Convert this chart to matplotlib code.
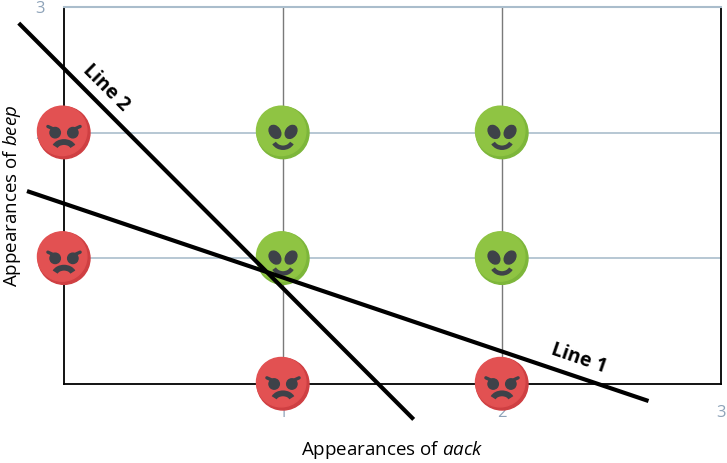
import matplotlib
matplotlib.use("Agg")
import matplotlib.pyplot as plt
from matplotlib.patches import Circle, Ellipse, Arc, Polygon
from matplotlib.transforms import Affine2D, ScaledTranslation

plt.rcParams['font.family'] = ['Open Sans', 'DejaVu Sans']
plt.rcParams['mathtext.fontset'] = 'custom'
plt.rcParams['mathtext.rm'] = 'Open Sans'
plt.rcParams['mathtext.it'] = 'Open Sans:italic'

# points: (aack, beep)
alien_x = [1, 1, 2, 2]
alien_y = [1, 2, 1, 2]
angry_x = [0, 0, 1, 2]
angry_y = [1, 2, 0, 0]

# the two separating lines, as end points
line1_x = [-0.16, 2.66]
line1_y = [1.53, -0.13]
line2_x = [-0.20, 1.59]
line2_y = [2.86, -0.27]

ticks = [0, 1, 2, 3]
tick_labels = ['', '1', '2', '3']

DARK = '#3e4249'
R = 26  # face radius in pixels


def face_transform(ax, x, y):
    return Affine2D().scale(R) + ScaledTranslation(x, y, ax.transData)


def face_base(ax, tr, dark, light):
    base = Circle((0, 0), 1, color=dark, transform=tr, clip_on=False, zorder=5)
    ax.add_patch(base)
    top = Circle((-0.07, 0.07), 0.95, color=light, transform=tr, clip_on=False, zorder=5)
    ax.add_patch(top)
    top.set_clip_path(base)


def draw_angry(ax, x, y):
    tr = face_transform(ax, x, y)
    face_base(ax, tr, '#cf3f42', '#e25152')
    for s in (-1, 1):
        cx, cy = s * 0.34, 0.0
        eye = Circle((cx, cy), 0.2, color=DARK, transform=tr, clip_on=False, zorder=6)
        ax.add_patch(eye)
        # slanted brow cuts the top of the eye
        cut = Polygon([(cx - 0.4, cy + 0.08 + s * 0.18), (cx + 0.4, cy + 0.08 - s * 0.18),
                       (cx + 0.4, cy - 0.5), (cx - 0.4, cy - 0.5)],
                      closed=True, transform=tr)
        eye.set_clip_path(cut)
        ax.plot([cx + s * 0.28, cx - s * 0.1], [cy + 0.08 + 0.128 + 0.03, cy + 0.08 - 0.045 + 0.03],
                color=DARK, lw=2.4, solid_capstyle='round', transform=tr,
                clip_on=False, zorder=6)
    ax.add_patch(Arc((0, -0.64), 0.74, 0.56, theta1=18, theta2=162, color=DARK, lw=4.2,
                     transform=tr, clip_on=False, zorder=6))


def draw_alien(ax, x, y):
    tr = face_transform(ax, x, y)
    face_base(ax, tr, '#7db63a', '#8fc443')
    for s in (-1, 1):
        ax.add_patch(Ellipse((s * 0.31, 0.03), 0.4, 0.54, angle=-s * 35, color=DARK,
                             transform=tr, clip_on=False, zorder=6))
    ax.add_patch(Arc((0, -0.2), 0.8, 0.76, theta1=210, theta2=330, color=DARK, lw=3.2,
                     transform=tr, clip_on=False, zorder=6))


fig = plt.figure(figsize=(7.27, 4.63), dpi=100)
ax = fig.add_axes([64 / 727, 1 - 384 / 463, 657 / 727, 377 / 463])
ax.set_xlim(0, 3)
ax.set_ylim(0, 3)

ax.set_xticks(ticks)
ax.set_xticklabels(tick_labels)
ax.set_yticks(ticks)
ax.set_yticklabels(tick_labels)
ax.tick_params(length=0, colors='#8ea3b9', labelsize=12)
ax.tick_params(axis='x', pad=15)
ax.tick_params(axis='y', pad=14)

for gx in [1, 2]:
    ax.axvline(gx, color='#7a7a7a', lw=1, zorder=1)
for gy in [1, 2]:
    ax.axhline(gy, color='#aabdcc', lw=1.2, zorder=1)

for side in ['left', 'bottom', 'right']:
    ax.spines[side].set_color('black')
    ax.spines[side].set_linewidth(1.3)
ax.spines['top'].set_color('#aabdcc')
ax.spines['top'].set_linewidth(1.5)

for x, y in zip(angry_x, angry_y):
    draw_angry(ax, x, y)
for x, y in zip(alien_x, alien_y):
    draw_alien(ax, x, y)

ax.plot(line1_x, line1_y, color='black', lw=3, clip_on=False, zorder=8)
ax.plot(line2_x, line2_y, color='black', lw=3, clip_on=False, zorder=8)

ax.text(0.19, 2.36, 'Line 2', rotation=-45, rotation_mode='anchor', ha='center', va='center',
        fontsize=14, fontweight='bold', zorder=9)
ax.text(2.35, 0.2, 'Line 1', rotation=-19, rotation_mode='anchor', ha='center', va='center',
        fontsize=14, fontweight='bold', zorder=9)

ax.set_xlabel('Appearances of $aack$', fontsize=13.5)
ax.set_ylabel('Appearances of $beep$', fontsize=13.5)
ax.xaxis.set_label_coords(0.5, -0.145)
ax.yaxis.set_label_coords(-0.062, 0.5)

fig.savefig('out.png', dpi=100)
